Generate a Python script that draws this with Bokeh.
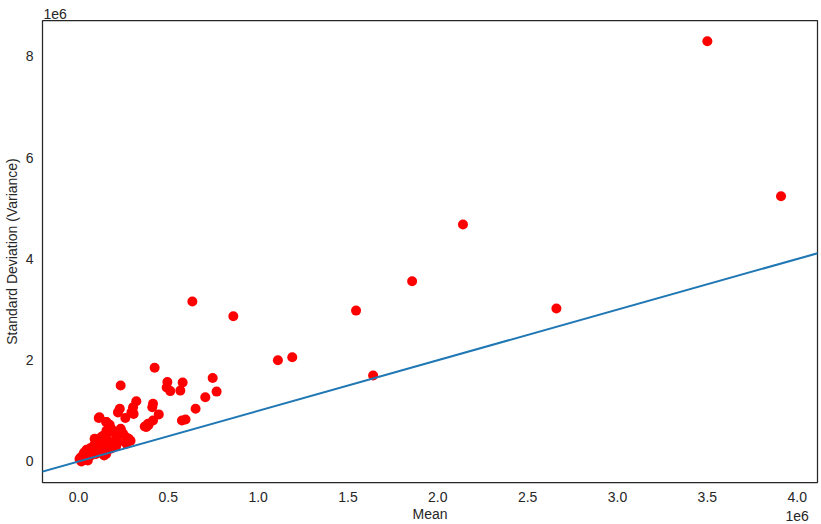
from bokeh.plotting import figure
from bokeh.models import Range1d, FixedTicker, Slope, Title
from bokeh.embed import file_html
from bokeh.resources import INLINE

# Data (units of 1e6)
mean_vals = [
    3.50, 3.91, 2.14, 1.857, 1.545, 2.66, 0.634, 0.862, 1.11, 1.19, 1.64,
    0.424, 0.235, 0.495, 0.58, 0.747, 0.769, 0.706, 0.652, 0.491, 0.511, 0.567,
    0.576, 0.596, 0.322, 0.415, 0.411, 0.447, 0.415, 0.387, 0.369, 0.304, 0.295,
    0.307, 0.23, 0.22, 0.113, 0.156, 0.174, 0.261, 0.183, 0.235, 0.198, 0.248,
    0.28, 0.29, 0.378, 0.39, 0.156, 0.137, 0.09, 0.128, 0.211, 0.22, 0.267,
    0.117, 0.154, 0.237, 0.265, 0.172, 0.126, 0.135, 0.19, 0.18, 0.135, 0.098,
    0.08, 0.061, 0.033, 0.024, 0.006, 0.024, 0.043, 0.07, 0.098, 0.126, 0.154,
    0.052, 0.016, 0.143, 0.174, 0.145, 0.11, 0.085, 0.065, 0.045, 0.03, 0.012,
    0.105, 0.12, 0.075, 0.055, 0.04, 0.02, 0.01, 0.095, 0.115, 0.16, 0.2,
    0.21, 0.165, 0.14, 0.088, 0.068, 0.05, 0.035,
]
std_vals = [
    8.30, 5.24, 4.68, 3.56, 2.98, 3.02, 3.16, 2.87, 2.00, 2.06, 1.70,
    1.85, 1.50, 1.57, 1.56, 1.65, 1.38, 1.27, 1.04, 1.46, 1.39, 1.40,
    0.81, 0.83, 1.19, 1.14, 1.07, 0.93, 0.81, 0.745, 0.69, 1.07, 0.97,
    0.94, 1.04, 0.97, 0.86, 0.78, 0.725, 0.86, 0.645, 0.645, 0.58, 0.55,
    0.45, 0.41, 0.68, 0.72, 0.61, 0.51, 0.45, 0.38, 0.45, 0.38, 0.35,
    0.875, 0.78, 0.61, 0.48, 0.58, 0.48, 0.38, 0.32, 0.25, 0.25, 0.25,
    0.28, 0.22, 0.18, 0.12, 0.05, 0.02, 0.085, 0.12, 0.15, 0.18, 0.15,
    0.02, 0.0, 0.12, 0.27, 0.30, 0.33, 0.31, 0.26, 0.23, 0.15, 0.08,
    0.22, 0.28, 0.19, 0.14, 0.09, 0.06, 0.04, 0.36, 0.41, 0.42, 0.40,
    0.30, 0.35, 0.43, 0.20, 0.17, 0.11, 0.07,
]
scale = 1e6
offset_text = "1e6"
x_ticks = [0.0, 0.5, 1.0, 1.5, 2.0, 2.5, 3.0, 3.5, 4.0]
x_tick_labels = ["0.0", "0.5", "1.0", "1.5", "2.0", "2.5", "3.0", "3.5", "4.0"]
y_ticks = [0, 2, 4, 6, 8]
y_tick_labels = ["0", "2", "4", "6", "8"]

xs = [v * scale for v in mean_vals]
ys = [v * scale for v in std_vals]

FONT = "Liberation Sans"
TXT = "#262626"
FS = "14px"

x0, x1 = -0.2e6, 4.113e6
y0, y1 = -0.415e6, 8.71e6

p = figure(width=821, height=524, output_backend="svg", toolbar_location=None,
           x_range=Range1d(x0, x1), y_range=Range1d(y0, y1),
           min_border_left=41, min_border_right=4, min_border_top=20,
           min_border_bottom=42)
p.background_fill_color = "white"
p.border_fill_color = "white"
p.outline_line_color = TXT
p.outline_line_width = 1.25
p.xgrid.grid_line_color = None
p.ygrid.grid_line_color = None

p.scatter(xs, ys, size=10, color="red", line_color=None)

p.add_layout(Slope(gradient=1, y_intercept=0, line_color="#1f77b4", line_width=2))

x_labels = list(x_tick_labels)
x_labels[-1] = x_labels[-1] + "\n" + offset_text  # offset text under the last tick, as matplotlib does

for ax, ticks, labels in ((p.xaxis[0], x_ticks, x_labels), (p.yaxis[0], y_ticks, y_tick_labels)):
    tv = [t * scale for t in ticks]
    ax.ticker = FixedTicker(ticks=tv)
    ax.major_label_overrides = {t: l for t, l in zip(tv, labels)}
    ax.major_tick_in = 0
    ax.major_tick_out = 0
    ax.minor_tick_in = 0
    ax.minor_tick_out = 0
    ax.axis_line_color = None
    ax.major_label_text_font = FONT
    ax.major_label_text_font_size = FS
    ax.major_label_text_color = TXT
    ax.axis_label_text_font = FONT
    ax.axis_label_text_font_size = FS
    ax.axis_label_text_color = TXT
    ax.axis_label_text_font_style = "normal"

p.xaxis[0].axis_label = "Mean"
p.xaxis[0].major_label_standoff = 6
p.xaxis[0].axis_label_standoff = -21
p.yaxis[0].axis_label = "Standard Deviation (Variance)"
p.yaxis[0].major_label_standoff = 9
p.yaxis[0].axis_label_standoff = 3

# top-left offset text as a title
p.add_layout(Title(text=offset_text, align="left", text_font=FONT, text_font_size=FS,
                   text_font_style="normal", text_color=TXT, standoff=3, offset=1), "above")

open("out.html", "w").write(file_html(p, INLINE))
